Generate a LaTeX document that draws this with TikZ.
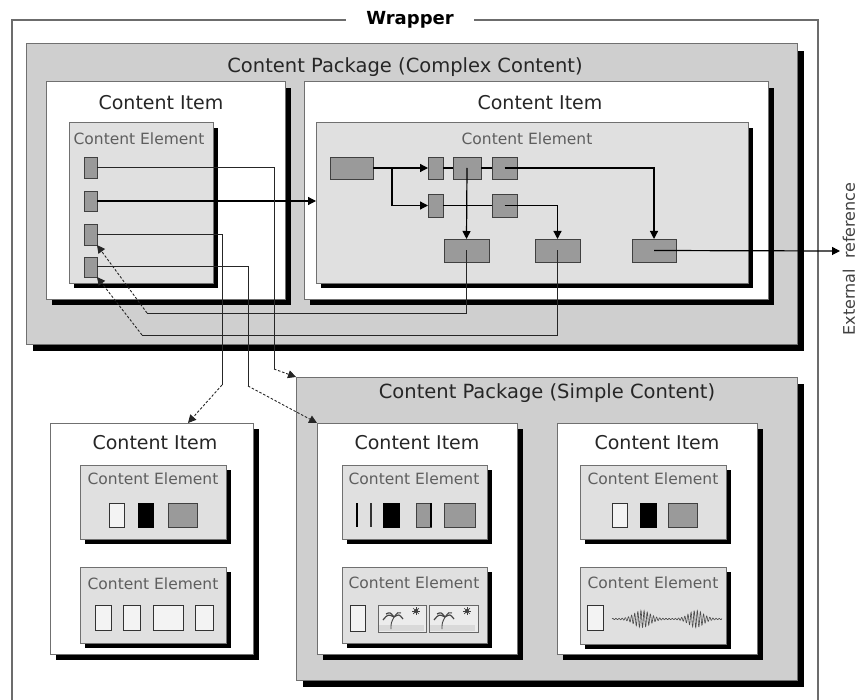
\documentclass[tikz,border=0pt]{standalone}
\usepackage{fontspec}
\setmainfont{DejaVu Sans}
\usetikzlibrary{shadows,arrows.meta}
\definecolor{pkgfill}{HTML}{CFCFCF}
\definecolor{elemfill}{HTML}{E0E0E0}
\definecolor{blkfill}{HTML}{9A9A9A}
\definecolor{edgecol}{HTML}{707070}
\definecolor{ttlcol}{HTML}{5E5E5E}
\definecolor{txtcol}{HTML}{262626}
\newcommand\mkbx[6]{\node[#1, minimum width={(#4)-(#2)}, minimum height={(#5)-(#3)}] (#6) at ({((#2)+(#4))/2},{((#3)+(#5))/2}) {};}
\tikzset{
  basebox/.style={rectangle, inner sep=0pt, outer sep=0pt},
  wrapbox/.style={basebox, draw=gray!85!black, line width=1.2pt},
  pkgbox/.style={basebox, draw=edgecol, line width=1pt, fill=pkgfill,
     drop shadow={shadow xshift=7pt, shadow yshift=-7pt, fill=black, opacity=1}},
  itembox/.style={basebox, draw=edgecol, line width=1pt, fill=white,
     drop shadow={shadow xshift=6pt, shadow yshift=-6pt, fill=black, opacity=1}},
  elembox/.style={basebox, draw=edgecol, line width=1pt, fill=elemfill,
     drop shadow={shadow xshift=5pt, shadow yshift=-5pt, fill=black, opacity=1}},
  graybox/.style={basebox, draw=black!75, line width=0.8pt, fill=blkfill},
  whitebox/.style={basebox, draw=black!80, line width=0.9pt, fill=elemfill!40},
  blackbox/.style={basebox, draw=black, line width=0.8pt, fill=black},
  imgbox/.style={basebox, draw=black!60, line width=0.7pt, fill=elemfill!60},
  wraptitle/.style={fill=white, inner xsep=20pt, inner ysep=2pt, font=\fontsize{18}{18}\selectfont\bfseries, text=black},
  pkgtitle/.style={inner sep=0pt, font=\fontsize{19.5}{20}\selectfont, text=txtcol},
  itemtitle/.style={inner sep=0pt, font=\fontsize{19}{20}\selectfont, text=txtcol},
  elemtitle/.style={inner sep=0pt, font=\fontsize{15.5}{16}\selectfont, text=ttlcol},
  conn/.style={draw=black, line width=1.2pt},
  thinconn/.style={draw=black!85, line width=1pt},
  arr/.style={-{Triangle[length=8pt,width=8pt]}},
  dashconn/.style={draw=black!85, line width=0.9pt, dash pattern=on 2.5pt off 1.8pt},
  palmpic/.pic={
    \fill[gray!30] (1,20) rectangle (46,26);
    \draw[gray!55!black, line width=0.9pt] (13,24) .. controls (13,18) .. (16,12);
    \draw[gray!55!black, line width=1.2pt] (16,12) .. controls (10,9) .. (5,15);
    \draw[gray!55!black, line width=1.2pt] (16,12) .. controls (12,7) .. (8,9);
    \draw[gray!55!black, line width=1.2pt] (16,12) .. controls (21,9) .. (25,14);
    \draw[gray!55!black, line width=1pt] (16,12) .. controls (20,7) .. (23,8);
    \fill[black!75] (38,6) circle (2pt);
    \foreach \a in {0,45,...,315} \draw[black!75, line width=0.7pt] (38,6) -- ++(\a:4pt);
  }
}
\begin{document}
\begin{tikzpicture}[x=1pt,y=-1pt]
\useasboundingbox (0,0) rectangle (858,700);
\clip (0,0) rectangle (858,700);

% wrapper
\mkbx{wrapbox}{12}{20}{818}{740}{wrap}
\node[wraptitle] (wrapT) at (410,20) {Wrapper};

% complex package
\mkbx{pkgbox}{26}{44}{797}{344}{cpk}
\node[pkgtitle] (cpkT) at (405,67) {Content Package (Complex Content)};

% content item 1
\mkbx{itembox}{46}{82}{285}{299}{ci1}
\node[itemtitle] (ci1T) at (161,103) {Content Item};
\mkbx{elembox}{69}{123}{213}{283}{ce1}
\node[elemtitle] (ce1T) at (139,139) {Content Element};
\mkbx{graybox}{84}{157}{97}{178}{s1}
\mkbx{graybox}{84}{191}{97}{211}{s2}
\mkbx{graybox}{84}{224}{97}{245}{s3}
\mkbx{graybox}{84}{257}{97}{277}{s4}

% content item 2
\mkbx{itembox}{304}{82}{768}{299}{ci2}
\node[itemtitle] (ci2T) at (540,103) {Content Item};
\mkbx{elembox}{316}{123}{748}{283}{ce2}
\node[elemtitle] (ce2T) at (527,139) {Content Element};
\mkbx{graybox}{330}{157}{373}{179}{b0}
\mkbx{graybox}{428}{157}{443}{179}{b1}
\mkbx{graybox}{453}{157}{481}{179}{b2}
\mkbx{graybox}{492}{157}{517}{179}{b3}
\mkbx{graybox}{428}{194}{443}{217}{b4}
\mkbx{graybox}{492}{194}{517}{217}{b5}
\mkbx{graybox}{444}{239}{489}{262}{b6}
\mkbx{graybox}{535}{239}{580}{262}{b7}
\mkbx{graybox}{632}{239}{676}{262}{b8}

% simple package
\mkbx{pkgbox}{296}{377}{797}{680}{spk}
\node[pkgtitle] (spkT) at (547,393) {Content Package (Simple Content)};

% left content item
\mkbx{itembox}{50}{423}{253}{654}{ci3}
\node[itemtitle] (ci3T) at (155,443) {Content Item};
\mkbx{elembox}{80}{465}{226}{539}{ceA}
\node[elemtitle] (ceAT) at (153,479) {Content Element};
\mkbx{whitebox}{109}{503}{124}{527}{a1}
\mkbx{blackbox}{138}{503}{153}{527}{a2}
\mkbx{graybox}{168}{503}{197}{527}{a3}
\mkbx{elembox}{80}{567}{226}{643}{ceB}
\node[elemtitle] (ceBT) at (153,584) {Content Element};
\mkbx{whitebox}{95}{605}{111}{630}{bb1}
\mkbx{whitebox}{123}{605}{140}{630}{bb2}
\mkbx{whitebox}{153}{605}{183}{630}{bb3}
\mkbx{whitebox}{195}{605}{213}{630}{bb4}

% simple item 1
\mkbx{itembox}{317}{423}{517}{654}{ci4}
\node[itemtitle] (ci4T) at (417,443) {Content Item};
\mkbx{elembox}{342}{465}{487}{539}{ceC}
\node[elemtitle] (ceCT) at (414,479) {Content Element};
\draw[black, line width=1.4pt] (357,503) -- (357,527);
\draw[black!80, line width=1.1pt] (371,503) -- (371,527);
\mkbx{blackbox}{383}{503}{399}{527}{c2}
\mkbx{graybox}{416}{503}{431}{527}{c3}
\draw[black, line width=1.5pt] (c3.north east) -- (c3.south east);
\mkbx{graybox}{444}{503}{475}{527}{c4}
\mkbx{elembox}{342}{567}{487}{643}{ceD}
\node[elemtitle] (ceDT) at (414,583) {Content Element};
\mkbx{whitebox}{350}{605}{365}{631}{d1}
\mkbx{imgbox}{378}{605}{426}{632}{im1}
\pic at (im1.north west) {palmpic};
\mkbx{imgbox}{429}{605}{478}{632}{im2}
\pic at (im2.north west) {palmpic};

% simple item 2
\mkbx{itembox}{557}{423}{757}{654}{ci5}
\node[itemtitle] (ci5T) at (657,443) {Content Item};
\mkbx{elembox}{580}{465}{726}{539}{ceE}
\node[elemtitle] (ceET) at (653,479) {Content Element};
\mkbx{whitebox}{612}{503}{627}{527}{e1}
\mkbx{blackbox}{640}{503}{656}{527}{e2}
\mkbx{graybox}{668}{503}{697}{527}{e3}
\mkbx{elembox}{580}{567}{726}{644}{ceF}
\node[elemtitle] (ceFT) at (653,583) {Content Element};
\mkbx{whitebox}{587}{605}{603}{630}{f1}
\draw[black!70, line width=0.6pt] plot[domain=0:110, samples=450, smooth]
  ({612+\x},{619-(0.6+8*exp(-((\x-30)/11)^2)+8*exp(-((\x-84)/10)^2))*sin(\x*115)});

% external reference
\node[rotate=90, inner sep=0pt, font=\fontsize{16}{16}\selectfont, text=black!75] (extT) at (849,259) {External\ \ reference};
\coordinate (ext) at (840,251);

% ---- connectors inside content element 2
\coordinate (j0) at (392,168);
\draw[conn] (b0.east) -- (j0);
\draw[conn, arr] (j0) -- (b1.west);
\draw[conn, arr] (j0) |- (b4.west);
\draw[conn] (b1.east) -- (b2.west);
\draw[conn] (b2.east) -- (b3.west);
\draw[conn] (b4.east) -- (b5.west);
\draw[conn, arr] (b3.center) -| (b8.north);
\draw[conn, arr] (b2.center) -- (b6.north);
\draw[conn, arr] (b5.center) -| (b7.north);
\draw[conn, arr] (b8.center) -- (ext);

% ---- return connectors to content element 1
\coordinate (r6) at (b6.center |- 0,313);
\coordinate (r6l) at (147,313);
\draw[thinconn] (b6.center) -- (r6) -- (r6l);
\draw[dashconn, arr] (r6l) -- (s3.south east);
\coordinate (r7) at (b7.center |- 0,335);
\coordinate (r7l) at (142,335);
\draw[thinconn] (b7.center) -- (r7) -- (r7l);
\draw[dashconn, arr] (r7l) -- (s4.south east);

% ---- connectors from content element 1
\draw[conn, arr] (s2.east) -- (s2.east -| ce2.west);
\coordinate (k1) at (274,369);
\draw[thinconn] (s1.east) -| (k1);
\draw[dashconn, arr] (k1) -- (spk.north west);
\coordinate (k3) at (222,385);
\coordinate (t3) at (188,423);
\draw[thinconn] (s3.east) -| (k3);
\draw[dashconn, arr] (k3) -- (t3);
\coordinate (k4) at (248,386);
\draw[thinconn] (s4.east) -| (k4);
\draw[dashconn, arr] (k4) -- (ci4.north west);
\end{tikzpicture}
\end{document}
